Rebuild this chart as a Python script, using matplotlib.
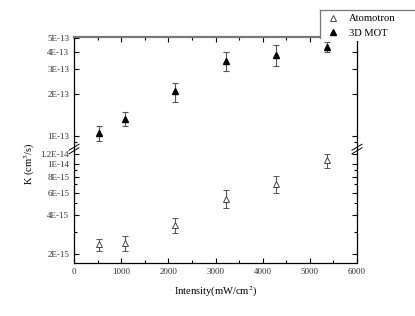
import matplotlib
matplotlib.use("Agg")
import matplotlib.pyplot as plt
import numpy as np
from matplotlib.lines import Line2D
from matplotlib.patches import Rectangle
from matplotlib.ticker import FixedLocator, FixedFormatter, MultipleLocator

plt.rcParams['font.family'] = ['Liberation Serif', 'DejaVu Serif']
plt.rcParams['mathtext.fontset'] = 'stix'

# data
intensity = [536, 1072, 2144, 3216, 4288, 5360]
mot_k = [1.05e-13, 1.33e-13, 2.08e-13, 3.45e-13, 3.82e-13, 4.32e-13]
mot_err = [0.13e-13, 0.16e-13, 0.32e-13, 0.56e-13, 0.66e-13, 0.36e-13]
atom_k = [2.38e-15, 2.45e-15, 3.38e-15, 5.4e-15, 7.05e-15, 1.07e-14]
atom_err = [0.25e-15, 0.32e-15, 0.47e-15, 0.86e-15, 1.1e-15, 0.13e-14]

top_ticks = [1e-13, 2e-13, 3e-13, 4e-13, 5e-13]
top_labels = ['1E-13', '2E-13', '3E-13', '4E-13', '5E-13']
bot_ticks = [2e-15, 4e-15, 6e-15, 8e-15, 1e-14, 1.2e-14]
bot_labels = ['2E-15', '4E-15', '6E-15', '8E-15', '1E-14', '1.2E-14']

W, H = 415, 316
fig = plt.figure(figsize=(W / 100, H / 100), dpi=100)

def box(x0, y0, x1, y1):
    return [x0 / W, 1 - y1 / H, (x1 - x0) / W, (y1 - y0) / H]

def px(x, y):
    return x / W, 1 - y / H

ax_top = fig.add_axes(box(74, 37, 357, 149))
ax_bot = fig.add_axes(box(74, 149, 357, 263), sharex=ax_top)

fs = 6.5
tick_col = '#333333'
bar_col = '#555555'

for ax in (ax_top, ax_bot):
    ax.set_yscale('log')
    ax.set_xlim(0, 6000)
    ax.xaxis.set_major_locator(MultipleLocator(1000))
    ax.xaxis.set_minor_locator(MultipleLocator(500))
    ax.tick_params(which='both', direction='in', top=True, right=True,
                   labelsize=fs, labelcolor=tick_col, width=0.8)
    ax.tick_params(which='major', length=3.5)
    ax.tick_params(which='minor', length=2)
    for s in ax.spines.values():
        s.set_linewidth(0.9)

ax_top.errorbar(intensity, mot_k, yerr=mot_err, fmt='^', color='black',
                ms=5, ecolor=bar_col, elinewidth=0.8, capsize=2.5, capthick=0.8)
ax_bot.errorbar(intensity, atom_k, yerr=atom_err, fmt='^', mfc='white',
                mec='#444444', ms=5, mew=0.7, ecolor=bar_col,
                elinewidth=0.8, capsize=2.5, capthick=0.8)

ax_top.set_ylim(8.05e-14, 5.1e-13)
ax_bot.set_ylim(1.71e-15, 1.31e-14)

ax_top.yaxis.set_major_locator(FixedLocator(top_ticks))
ax_top.yaxis.set_major_formatter(FixedFormatter(top_labels))
ax_bot.yaxis.set_major_locator(FixedLocator(bot_ticks))
ax_bot.yaxis.set_major_formatter(FixedFormatter(bot_labels))
ax_top.yaxis.set_minor_formatter(plt.NullFormatter())
ax_bot.yaxis.set_minor_formatter(plt.NullFormatter())

ax_top.spines['bottom'].set_visible(False)
ax_bot.spines['top'].set_visible(False)
ax_top.tick_params(which='both', bottom=False, labelbottom=False)
ax_bot.tick_params(which='both', top=False)
ax_top.spines['top'].set_color('#777777')
ax_top.spines['top'].set_linewidth(1.6)
# the legend box sits over the top-right corner of the frame
ax_top.spines['top'].set_bounds(0, 5216)
ax_top.spines['right'].set_bounds(8.05e-14, 4.77e-13)

ax_bot.set_xlabel('Intensity(mW/cm$^2$)', fontsize=7.6, labelpad=6)
fig.text(30 / W, 1 - 164 / H, 'K (cm$^3$/s)', rotation=90, fontsize=7.6,
         ha='center', va='center')

# break marks on both side spines
for xb in (74, 357):
    for dy in (-1.8, 1.8):
        x0, y0 = px(xb - 5, 152 + dy)
        x1, y1 = px(xb + 5, 146 + dy)
        fig.add_artist(Line2D([x0, x1], [y0, y1], transform=fig.transFigure,
                              color='black', lw=0.7, zorder=4))

# legend box, running off the right edge like the original
ax_top.add_patch(Rectangle(px(320, 41), 100 / W, 31 / H,
                           transform=fig.transFigure, facecolor='white',
                           edgecolor='none', zorder=10, clip_on=False))
for xs, ys in (([320, 320], [10, 38]), ([320, 420], [10, 10])):
    fig.add_artist(Line2D([x / W for x in xs], [1 - y / H for y in ys],
                          transform=fig.transFigure, color='#777777',
                          lw=0.9, zorder=3.5))
handles = [Line2D([], [], ls='none', marker='^', mfc='white', mec='#444444', ms=5, mew=0.7),
           Line2D([], [], ls='none', marker='^', color='black', ms=5)]
fig.legend(handles, ['Atomotron', '3D MOT'], loc='upper left',
           bbox_to_anchor=px(327, 14), frameon=False, fontsize=7.6,
           borderpad=0, borderaxespad=0, handlelength=1.2, handletextpad=0.9,
           labelspacing=0.5)

fig.savefig('out.png', dpi=100)
